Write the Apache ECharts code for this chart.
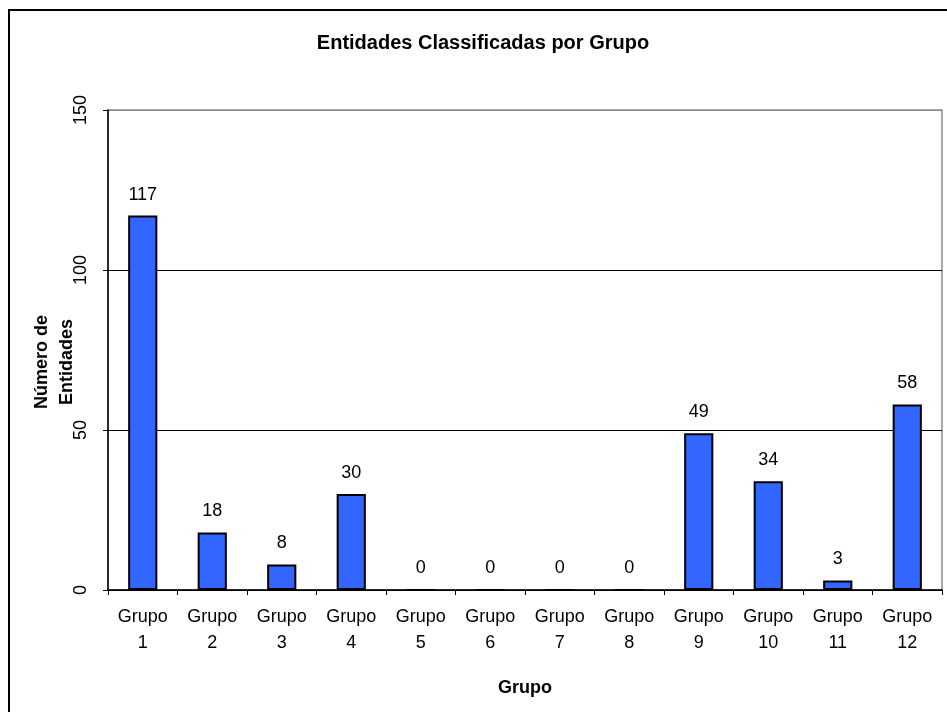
<!DOCTYPE html>
<html>
<head>
<meta charset="utf-8">
<script src="https://cdn.jsdelivr.net/npm/echarts@6/dist/echarts.min.js"></script>
<style>
  html, body { margin: 0; padding: 0; background: #fff; }
  #chart { width: 947px; height: 712px; }
</style>
</head>
<body>
<div id="chart"></div>
<script>
// Entities per group
const categories = ['Grupo 1', 'Grupo 2', 'Grupo 3', 'Grupo 4', 'Grupo 5', 'Grupo 6',
                    'Grupo 7', 'Grupo 8', 'Grupo 9', 'Grupo 10', 'Grupo 11', 'Grupo 12'];
const entityCounts = [117, 18, 8, 30, 0, 0, 0, 0, 49, 34, 3, 58];
const yTicks = { min: 0, max: 150, interval: 50 };

const FONT = '"Liberation Sans", Arial, sans-serif';

const chart = echarts.init(document.getElementById('chart'), null, { renderer: 'canvas' });

chart.setOption({
  animation: false,
  backgroundColor: '#fff',
  textStyle: { fontFamily: FONT },
  title: {
    text: 'Entidades Classificadas por Grupo',
    left: 478,
    textAlign: 'center',
    top: 28,
    textStyle: { fontFamily: FONT, fontSize: 20, fontWeight: 'bold', color: '#000' }
  },
  graphic: [{
    type: 'rect',
    shape: { x: 9, y: 10, width: 960, height: 740 },
    style: { fill: 'none', stroke: '#000', lineWidth: 2 },
    silent: true,
    z: 100
  }],
  grid: {
    left: 108, right: 5, top: 110, bottom: 122,
    show: true, borderColor: '#8c8c8c', borderWidth: 1.5,
    containLabel: false,
    outerBoundsMode: 'none'
  },
  xAxis: {
    type: 'category',
    data: categories,
    name: 'Grupo',
    nameLocation: 'middle',
    nameGap: 89,
    nameMoveOverlap: false,
    nameTextStyle: { fontFamily: FONT, fontSize: 18, fontWeight: 'bold', color: '#000' },
    axisLine: { show: true, lineStyle: { color: '#000', width: 1.5 } },
    axisTick: { show: true, length: 5, lineStyle: { color: '#000' } },
    axisLabel: {
      interval: 0,
      margin: 14,
      fontFamily: FONT, fontSize: 18, color: '#000', lineHeight: 26,
      formatter: (v) => v.replace(' ', '\n')
    },
    splitLine: { show: false }
  },
  yAxis: {
    type: 'value',
    min: yTicks.min, max: yTicks.max, interval: yTicks.interval,
    name: 'Número de\nEntidades',
    nameLocation: 'middle',
    nameRotate: 90,
    nameGap: 28,
    nameMoveOverlap: false,
    nameTextStyle: {
      fontFamily: FONT, fontSize: 18, fontWeight: 'bold', color: '#000',
      lineHeight: 25, padding: [0, 24, 0, 0]
    },
    axisLine: { show: true, lineStyle: { color: '#000', width: 1.5 } },
    axisTick: { show: true, length: 5, lineStyle: { color: '#000' } },
    axisLabel: {
      rotate: 90, margin: 18,
      fontFamily: FONT, fontSize: 18, color: '#000'
    },
    splitLine: {
      show: true,
      lineStyle: { color: ['#000', '#000', '#000', '#8c8c8c'], width: 1 }
    }
  },
  series: [{
    type: 'bar',
    data: entityCounts,
    barWidth: '42%',
    itemStyle: { color: '#3366ff', borderColor: '#000', borderWidth: 2 },
    label: {
      show: true, position: 'top', distance: 12,
      fontFamily: FONT, fontSize: 18, color: '#000'
    }
  }]
});
</script>
</body>
</html>
